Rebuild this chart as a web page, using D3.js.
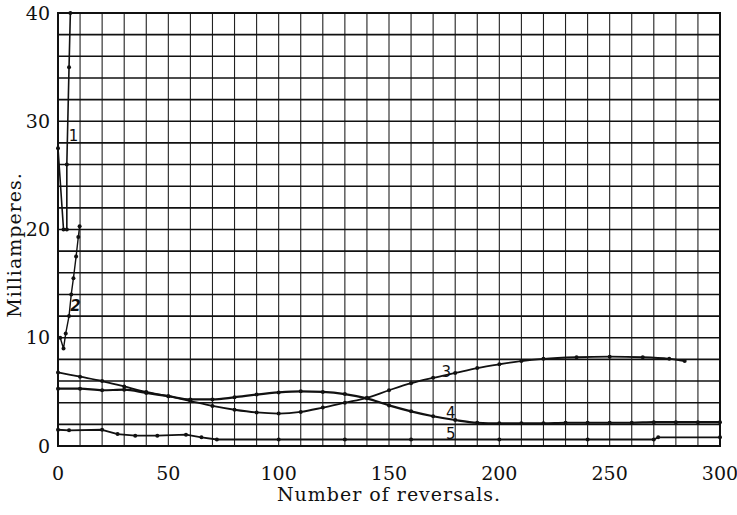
<!DOCTYPE html>
<html>
<head>
<meta charset="utf-8">
<script src="https://cdn.jsdelivr.net/npm/d3@7/dist/d3.min.js"></script>
<style>
    body { margin: 0; background: #fff; }
    svg { display: block; }
    .tick-label { font-family: "DejaVu Serif", serif; font-size: 19px; fill: #111; }
    .axis-title { font-family: "DejaVu Serif", serif; font-size: 19px; letter-spacing: 1px; fill: #111; }
    .curve-label { font-family: "DejaVu Sans", sans-serif; font-size: 15px; fill: #111; }
</style>
</head>
<body>
<svg width="737" height="515"></svg>
<script>
    // tick labels
    var xTicks = [0, 50, 100, 150, 200, 250, 300];
    var yTicks = [0, 10, 20, 30, 40];

    // curves: [reversals, milliamperes]
    var curve1 = [[0, 27.5], [2.5, 20], [4, 20], [4, 26], [5, 35], [5.6, 40]];
    var curve2 = [[1, 10], [2.5, 9], [3.5, 10.4], [5, 12], [6, 14], [7, 15.5], [8.2, 17.5], [9.2, 19.3], [9.8, 20.3]];
    var curve3 = [[0, 6.8], [10, 6.4], [20, 6.0], [30, 5.5], [40, 5.0], [50, 4.6], [60, 4.15], [70, 3.7],
        [80, 3.35], [90, 3.1], [100, 3.0], [110, 3.15], [120, 3.55], [130, 4.0], [140, 4.45], [150, 5.15],
        [160, 5.8], [170, 6.3], [180, 6.75], [190, 7.2], [200, 7.55], [210, 7.85], [220, 8.05], [235, 8.2],
        [250, 8.25], [265, 8.2], [277, 8.05], [284, 7.85]];
    var curve4 = [[0, 5.3], [10, 5.3], [20, 5.15], [30, 5.2], [40, 4.9], [50, 4.6], [60, 4.3], [70, 4.3],
        [80, 4.5], [90, 4.75], [100, 4.95], [110, 5.05], [120, 5.0], [130, 4.8], [140, 4.4], [150, 3.75],
        [160, 3.2], [170, 2.75], [180, 2.4], [190, 2.15], [200, 2.1], [210, 2.1], [220, 2.1], [230, 2.15],
        [240, 2.15], [250, 2.15], [260, 2.15], [270, 2.2], [280, 2.2], [290, 2.2], [300, 2.2]];
    var curve5 = [[0, 1.5], [5, 1.45], [20, 1.5], [27, 1.1], [35, 0.95], [45, 0.95], [58, 1.05], [65, 0.8],
        [72, 0.6], [100, 0.6], [130, 0.6], [160, 0.6], [200, 0.6], [240, 0.6], [270, 0.6], [272, 0.8], [300, 0.8]];

    // label positions in data units
    var curveLabels = [
        { text: "1", x: 7, y: 28.7, italic: false },
        { text: "2", x: 7.9, y: 13, italic: true },
        { text: "3", x: 176, y: 6.9, italic: false },
        { text: "4", x: 178, y: 3.1, italic: false },
        { text: "5", x: 178, y: 1.1, italic: false }
    ];

    var svg = d3.select("svg"),
        margin = { top: 13, right: 17, bottom: 69, left: 58 },
        width = +svg.attr("width") - margin.left - margin.right,
        height = +svg.attr("height") - margin.top - margin.bottom;

    var x = d3.scaleLinear().domain([0, 300]).range([0, width]),
        y = d3.scaleLinear().domain([0, 40]).range([height, 0]);

    var g = svg.append("g")
        .attr("transform", "translate(" + margin.left + "," + margin.top + ")");

    // grid: every 10 reversals, every 2 mA
    g.append("g")
        .selectAll("line")
        .data(d3.range(0, 301, 10))
        .enter().append("line")
        .attr("x1", function(d) { return x(d); })
        .attr("x2", function(d) { return x(d); })
        .attr("y1", 0)
        .attr("y2", height)
        .attr("stroke", "#222")
        .attr("stroke-width", 1.1);

    g.append("g")
        .selectAll("line")
        .data(d3.range(0, 41, 2))
        .enter().append("line")
        .attr("x1", 0)
        .attr("x2", width)
        .attr("y1", function(d) { return y(d); })
        .attr("y2", function(d) { return y(d); })
        .attr("stroke", "#111")
        .attr("stroke-width", 1.6);

    g.append("rect")
        .attr("width", width)
        .attr("height", height)
        .attr("fill", "none")
        .attr("stroke", "#111")
        .attr("stroke-width", 2);

    // tick labels
    g.selectAll(".xt")
        .data(xTicks)
        .enter().append("text")
        .attr("class", "tick-label")
        .attr("x", function(d) { return x(d); })
        .attr("y", height + 34)
        .attr("text-anchor", "middle")
        .text(function(d) { return d; });

    g.selectAll(".yt")
        .data(yTicks)
        .enter().append("text")
        .attr("class", "tick-label")
        .attr("x", -8)
        .attr("y", function(d) { return y(d); })
        .attr("dy", "0.35em")
        .attr("text-anchor", "end")
        .text(function(d) { return d; });

    svg.append("text")
        .attr("class", "axis-title")
        .attr("x", 389)
        .attr("y", 501)
        .attr("text-anchor", "middle")
        .text("Number of reversals.");

    svg.append("text")
        .attr("class", "axis-title")
        .attr("transform", "translate(21,245) rotate(-90)")
        .attr("text-anchor", "middle")
        .text("Milliamperes.");

    // curves
    var straight = d3.line()
        .x(function(d) { return x(d[0]); })
        .y(function(d) { return y(d[1]); });
    var smooth = d3.line()
        .curve(d3.curveMonotoneX)
        .x(function(d) { return x(d[0]); })
        .y(function(d) { return y(d[1]); });

    var series = [
        { data: curve1, line: straight, w: 1.6 },
        { data: curve2, line: straight, w: 1.4 },
        { data: curve3, line: smooth, w: 1.8 },
        { data: curve4, line: smooth, w: 2.2 },
        { data: curve5, line: straight, w: 1.8 }
    ];

    series.forEach(function(s) {
        g.append("path")
            .datum(s.data)
            .attr("fill", "none")
            .attr("stroke", "#111")
            .attr("stroke-width", s.w)
            .attr("stroke-linejoin", "round")
            .attr("d", s.line);

        g.append("g")
            .selectAll("circle")
            .data(s.data)
            .enter().append("circle")
            .attr("cx", function(d) { return x(d[0]); })
            .attr("cy", function(d) { return y(d[1]); })
            .attr("r", 2)
            .attr("fill", "#111");
    });

    g.selectAll(".curve-label")
        .data(curveLabels)
        .enter().append("text")
        .attr("class", "curve-label")
        .attr("x", function(d) { return x(d.x); })
        .attr("y", function(d) { return y(d.y); })
        .attr("text-anchor", "middle")
        .attr("dy", "0.35em")
        .style("font-style", function(d) { return d.italic ? "italic" : "normal"; })
        .style("font-weight", function(d) { return d.italic ? "bold" : "normal"; })
        .text(function(d) { return d.text; });
</script>
</body>
</html>
